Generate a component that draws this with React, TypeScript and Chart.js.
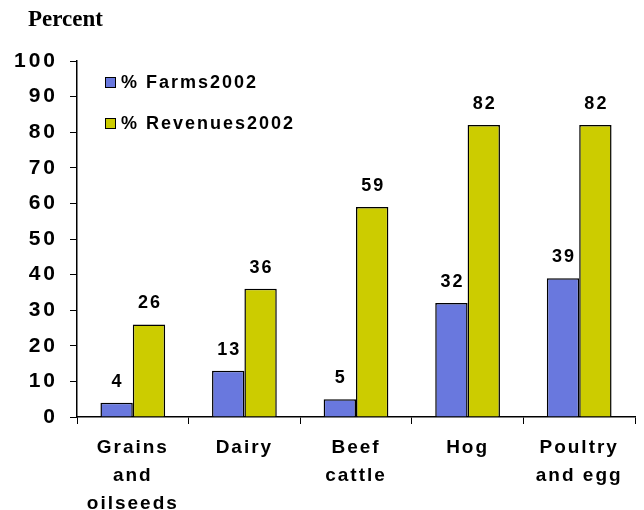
import React, { useEffect, useRef } from 'react';
import { Chart, registerables } from 'chart.js';

Chart.register(...registerables);

const categories: string[][] = [
  ['Grains', 'and', 'oilseeds'],
  ['Dairy'],
  ['Beef', 'cattle'],
  ['Hog'],
  ['Poultry', 'and egg'],
];
const farms2002 = [4, 13, 5, 32, 39];
const revenues2002 = [26, 36, 59, 82, 82];
const seriesNames = ['% Farms2002', '% Revenues2002'];
const seriesColors = ['#6978DE', '#CCCC00'];
const yAxisTitle = 'Percent';
const yMin = 0;
const yMax = 100;
const yStep = 10;

const SANS = "'Liberation Sans', Arial, sans-serif";
const SERIF = "'Liberation Serif', 'Times New Roman', serif";

function patchSpacing(scale: any, spacing: string) {
  if (scale._spPatched) return;
  const orig = scale.drawLabels.bind(scale);
  scale.drawLabels = (area: any) => {
    const ctx = scale.ctx;
    const prev = ctx.letterSpacing;
    ctx.letterSpacing = spacing;
    orig(area);
    ctx.letterSpacing = prev;
  };
  scale._spPatched = true;
}

const decorPlugin = {
  id: 'decor',
  afterDatasetsDraw(chart: any) {
    const ctx = chart.ctx;
    ctx.save();
    ctx.letterSpacing = '2px';
    ctx.font = `bold 18px ${SANS}`;
    ctx.fillStyle = '#000';
    ctx.textAlign = 'center';
    ctx.textBaseline = 'alphabetic';
    chart.data.datasets.forEach((ds: any, i: number) => {
      const meta = chart.getDatasetMeta(i);
      meta.data.forEach((el: any, j: number) => {
        ctx.fillText(String(ds.data[j]), el.x + 1, el.y - 16);
      });
    });
    ctx.restore();
  },
  afterDraw(chart: any) {
    const ctx = chart.ctx;
    const area = chart.chartArea;
    ctx.save();
    ctx.letterSpacing = '0px';
    ctx.font = `bold 23px ${SERIF}`;
    ctx.fillStyle = '#000';
    ctx.textAlign = 'left';
    ctx.textBaseline = 'alphabetic';
    ctx.fillText(yAxisTitle, 28, 26);
    ctx.letterSpacing = '2px';
    ctx.font = `bold 18px ${SANS}`;
    ctx.textBaseline = 'middle';
    chart.data.datasets.forEach((ds: any, i: number) => {
      const cy = area.top + 21 + i * 41;
      const mx = area.left + 28;
      ctx.fillStyle = ds.backgroundColor;
      ctx.fillRect(mx, cy - 5, 10, 10);
      ctx.strokeStyle = '#000';
      ctx.lineWidth = 1;
      ctx.strokeRect(mx + 0.5, cy - 4.5, 10, 10);
      ctx.fillStyle = '#000';
      ctx.fillText(ds.label, mx + 16, cy + 1);
    });
    ctx.restore();
  },
};

export default function App() {
  const ref = useRef<HTMLCanvasElement>(null);
  useEffect(() => {
    if (!ref.current) return;
    const chart = new Chart(ref.current, {
      type: 'bar',
      data: {
        labels: categories,
        datasets: [
          {
            label: seriesNames[0],
            data: farms2002,
            backgroundColor: seriesColors[0],
            borderColor: '#000',
            borderWidth: 1.5,
          },
          {
            label: seriesNames[1],
            data: revenues2002,
            backgroundColor: seriesColors[1],
            borderColor: '#000',
            borderWidth: 1.5,
          },
        ],
      },
      options: {
        responsive: false,
        animation: false,
        categoryPercentage: 0.58,
        barPercentage: 1.0,
        layout: { padding: { top: 61, right: 9, left: 0, bottom: 0 } },
        plugins: {
          legend: { display: false },
          tooltip: { enabled: false },
          title: { display: false },
        },
        scales: {
          x: {
            grid: {
              display: true,
              drawOnChartArea: false,
              drawTicks: true,
              tickLength: 7,
              color: '#000',
              lineWidth: 1,
              offset: true,
            },
            border: { color: '#000', width: 1.5 },
            ticks: {
              color: '#000',
              font: { family: SANS, size: 19, weight: 'bold', lineHeight: 1.47 },
              padding: 10,
              maxRotation: 0,
              minRotation: 0,
              autoSkip: false,
            },
            afterFit(scale: any) {
              scale.height = 93;
              patchSpacing(scale, '2px');
            },
          },
          y: {
            min: yMin,
            max: yMax,
            grid: {
              display: true,
              drawOnChartArea: false,
              drawTicks: true,
              tickLength: 7,
              color: '#000',
              lineWidth: 1,
            },
            border: { color: '#000', width: 1.5 },
            ticks: {
              stepSize: yStep,
              color: '#000',
              font: { family: SANS, size: 21, weight: 'bold' },
              padding: 12,
            },
            afterFit(scale: any) {
              scale.width = 77;
              patchSpacing(scale, '3px');
            },
          },
        },
      },
      plugins: [decorPlugin],
    } as any);
    return () => chart.destroy();
  }, []);
  return (
    <div style={{ position: 'fixed', left: 0, top: 0, width: 644, height: 510, background: '#fff' }}>
      <canvas ref={ref} width={644} height={510} />
    </div>
  );
}
